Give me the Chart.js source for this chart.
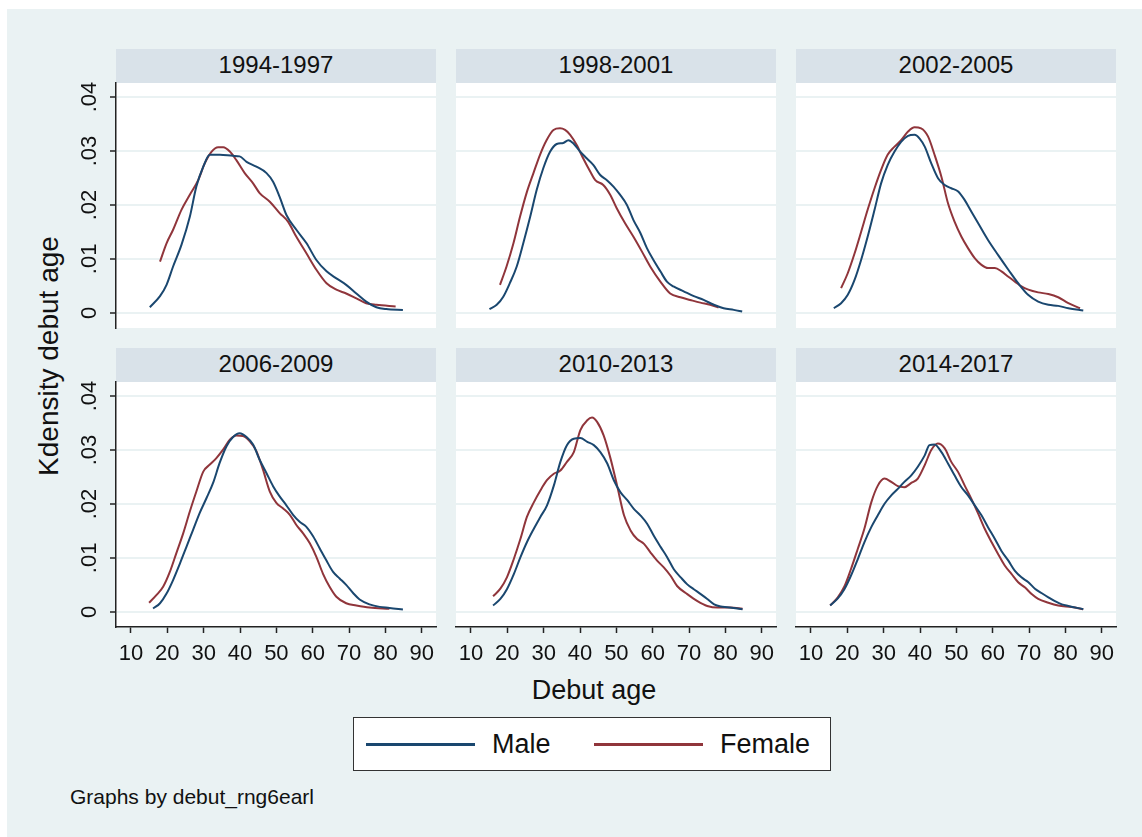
<!DOCTYPE html>
<html>
<head>
<meta charset="utf-8">
<script src="https://cdn.jsdelivr.net/npm/chart.js@4.4.1/dist/chart.umd.min.js"></script>
<style>
  body { margin: 0; background: #fff; font-family: "Liberation Sans", Arial, sans-serif; color: #111; }
  #frame { position: absolute; left: 7px; top: 9px; width: 1135px; height: 828px; background: #eaf2f3; }
  .strip { position: absolute; width: 320px; height: 34px; background: #d9e2e9; text-align: center;
           font-size: 24px; line-height: 32px; color: #111; }
  canvas { position: absolute; }
  #ytitle { position: absolute; left: -101px; top: 340px; width: 300px; height: 32px; line-height: 32px;
            text-align: center; font-size: 28px; transform: rotate(-90deg); }
  #xtitle { position: absolute; left: 444px; top: 674px; width: 300px; text-align: center; font-size: 27px; line-height: 32px; }
  #legend { position: absolute; left: 353px; top: 717px; width: 476px; height: 52px; background: #fff;
            border: 1.5px solid #333; }
  .swatch { position: absolute; top: 25px; width: 109px; height: 0; border-top: 3px solid; }
  .ltext { position: absolute; top: 10px; font-size: 27px; line-height: 32px; }
  #note { position: absolute; left: 70px; top: 784px; font-size: 21px; line-height: 26px; }
</style>
</head>
<body>
<div id="frame"></div>
<div id="ytitle">Kdensity debut age</div>
<div id="xtitle">Debut age</div>
<div id="legend">
  <div class="swatch" style="left:12px;border-color:#1a476f"></div>
  <div class="ltext" style="left:138px">Male</div>
  <div class="swatch" style="left:240px;border-color:#90353b"></div>
  <div class="ltext" style="left:366px">Female</div>
</div>
<div id="note">Graphs by debut_rng6earl</div>

<script>
// 年代別のデビュー年齢カーネル密度（読み取り値）
const panelTitles = ["1994-1997", "1998-2001", "2002-2005", "2006-2009", "2010-2013", "2014-2017"];
const xTicks = [10, 20, 30, 40, 50, 60, 70, 80, 90];
const yTicks = [0, 0.01, 0.02, 0.03, 0.04];

const male9497 = [[15.2,.00105],[18.0,.0031],[19.8,.0052],[21.6,.0086],[23.9,.0126],[26.2,.0178],[28.0,.0234],[29.9,.0271],[31.7,.0293],[34.5,.0293],[38.1,.0291],[39.9,.029],[41.8,.028],[44.5,.0271],[47.3,.0259],[49.1,.0243],[50.9,.0215],[52.8,.0181],[55.5,.0154],[58.3,.0129],[61.0,.0098],[63.8,.0077],[66.5,.0064],[69.2,.0052],[72.0,.0036],[74.7,.0021],[77.5,.00105],[80.2,.0007],[84.8,.00055]];
const female9497 = [[18.0,.0095],[19.8,.0129],[21.6,.0154],[23.9,.0191],[26.2,.0219],[28.5,.0246],[30.3,.0277],[32.2,.0299],[34.0,.0307],[35.4,.0307],[37.2,.0299],[39.0,.0283],[41.3,.0259],[43.6,.024],[45.4,.0222],[48.2,.0206],[50.9,.0185],[53.2,.0169],[55.5,.0141],[58.3,.011],[61.0,.008],[63.8,.0055],[66.5,.0043],[69.2,.0036],[72.0,.0027],[74.7,.0018],[77.5,.0015],[82.8,.0012]];

const male9801 = [[15.1,.00068],[17.1,.0015],[18.9,.003],[20.7,.0055],[22.6,.0086],[24.4,.0129],[26.3,.0178],[28.1,.0228],[29.9,.0268],[31.8,.0299],[33.6,.0313],[35.4,.0315],[36.8,.032],[38.2,.0314],[40.0,.0299],[41.9,.0286],[43.7,.0274],[45.5,.0256],[47.4,.0246],[49.2,.0234],[51.0,.0219],[52.9,.02],[54.7,.0172],[56.6,.0148],[58.4,.012],[60.2,.0098],[62.1,.0077],[63.9,.0058],[65.7,.0049],[68.5,.004],[71.3,.0031],[74.0,.0024],[76.8,.0015],[79.5,.00086],[82.3,.00056],[84.6,.00025]];
const female9801 = [[18.0,.0052],[19.8,.0086],[21.7,.0129],[23.5,.0178],[25.3,.0222],[27.2,.0259],[29.0,.0293],[30.8,.032],[32.7,.0339],[34.5,.0342],[35.9,.0339],[37.3,.033],[39.1,.0311],[40.9,.0286],[42.8,.0262],[44.2,.0246],[46.4,.0237],[48.3,.0219],[50.1,.0194],[52.4,.0166],[54.7,.0141],[57.0,.0114],[59.3,.0086],[62.1,.0058],[64.8,.0036],[67.6,.0029],[70.3,.0024],[73.1,.0019],[75.8,.0015],[78.1,.001]];

const male0205 = [[16.3,.00086],[18.3,.0018],[20.1,.0033],[22.0,.0061],[23.8,.0098],[25.6,.0141],[27.5,.0191],[29.3,.024],[31.1,.0274],[33.0,.0299],[34.8,.0317],[36.7,.0328],[38.5,.033],[39.9,.0323],[41.3,.0308],[43.1,.0277],[45.0,.0249],[46.8,.0237],[48.6,.0231],[50.5,.0225],[52.3,.0209],[54.1,.0188],[56.0,.0166],[58.7,.0135],[61.5,.0107],[64.3,.008],[67.0,.0055],[69.8,.0033],[72.5,.0021],[75.3,.0015],[78.0,.0013],[80.8,.00086],[84.9,.00043]];
const female0205 = [[18.3,.0046],[20.1,.0073],[22.0,.011],[23.8,.015],[25.6,.0191],[27.5,.0231],[29.3,.0265],[31.1,.0293],[33.0,.0308],[34.8,.032],[36.7,.0336],[38.5,.0344],[40.3,.0342],[42.2,.0327],[44.0,.0293],[45.9,.0252],[47.7,.0203],[49.5,.0169],[51.4,.0141],[53.2,.012],[55.1,.0101],[56.9,.0089],[58.7,.0083],[60.6,.0083],[62.4,.0077],[64.3,.0067],[66.1,.0058],[67.9,.0049],[69.8,.0043],[72.5,.0038],[75.3,.0035],[78.0,.0029],[80.8,.0018],[84.0,.00086]];

const male0609 = [[16.1,.00062],[18.0,.0016],[19.8,.0034],[21.6,.0059],[23.5,.009],[25.3,.0121],[27.1,.0152],[28.9,.0183],[30.8,.0211],[32.6,.0239],[34.4,.0276],[36.3,.0307],[38.1,.0324],[39.9,.0331],[41.8,.0324],[43.6,.031],[45.4,.0282],[47.3,.0257],[49.1,.0233],[50.9,.0214],[52.7,.0198],[54.6,.018],[56.4,.0167],[58.2,.0158],[60.1,.014],[61.9,.0118],[63.7,.0096],[65.6,.0074],[67.4,.0062],[69.2,.005],[71.1,.0035],[72.9,.0023],[75.6,.0014],[78.4,.00093],[81.1,.00074],[84.8,.00043]];
const female0609 = [[15.0,.0017],[17.0,.0031],[18.9,.0047],[20.7,.0074],[22.5,.0109],[24.4,.0146],[26.2,.0186],[28.0,.0223],[29.9,.026],[31.7,.0273],[33.5,.0285],[35.4,.0301],[37.2,.0319],[39.0,.0327],[40.8,.0326],[42.7,.0316],[44.5,.0298],[46.3,.0264],[48.2,.0223],[50.0,.0202],[51.8,.0192],[53.7,.018],[55.5,.0161],[57.3,.0146],[59.2,.0127],[61.0,.0102],[62.8,.0071],[64.6,.0047],[66.5,.0028],[69.2,.0016],[72.0,.0012],[75.6,.00081],[81.1,.00056]];

const male1013 = [[16.1,.0012],[18.1,.0024],[19.9,.0042],[21.8,.007],[23.6,.0101],[25.4,.0129],[27.3,.0154],[29.1,.0176],[30.9,.0197],[32.8,.0234],[34.6,.0278],[36.4,.0309],[38.3,.0321],[40.1,.0322],[42.0,.0315],[43.8,.0309],[45.6,.0296],[47.5,.0275],[49.3,.0244],[51.1,.0222],[53.0,.0207],[54.8,.0191],[56.6,.0179],[58.5,.0163],[60.3,.0141],[62.2,.012],[64.0,.0101],[65.8,.0079],[67.7,.0064],[69.5,.0051],[71.3,.0042],[73.2,.0033],[75.0,.0024],[76.9,.0014],[78.7,.001],[80.5,.00087],[84.7,.0005]];
const female1013 = [[16.1,.0029],[18.1,.0043],[19.9,.0064],[21.8,.0098],[23.6,.0135],[25.4,.0176],[27.3,.0203],[29.1,.0225],[30.9,.0244],[32.8,.0256],[34.6,.0262],[36.4,.0278],[38.3,.0296],[40.1,.0337],[42.0,.0355],[43.3,.036],[44.7,.0352],[46.5,.0327],[48.4,.0284],[50.2,.0234],[52.1,.0179],[53.9,.0151],[55.7,.0135],[57.6,.0126],[59.4,.011],[61.2,.0095],[63.1,.0082],[64.9,.0067],[66.7,.0048],[69.5,.0033],[72.3,.002],[75.0,.0011],[77.8,.0008],[81.4,.0008],[84.7,.0006]];

const male1417 = [[15.3,.0012],[17.4,.0025],[19.2,.0042],[21.0,.0067],[22.9,.0098],[24.7,.0129],[26.6,.0157],[28.4,.0179],[30.2,.02],[32.1,.0216],[33.9,.0228],[35.7,.0241],[37.6,.0253],[39.4,.0269],[41.3,.029],[42.6,.0309],[44.0,.031],[45.9,.0296],[47.7,.0275],[49.5,.0253],[51.4,.0231],[53.2,.0216],[55.1,.0197],[56.9,.0179],[58.7,.0157],[60.6,.0135],[62.4,.0113],[64.3,.0095],[66.1,.0076],[67.9,.0064],[69.8,.0055],[71.6,.0043],[73.4,.0035],[75.3,.0027],[77.1,.002],[79.0,.0014],[80.8,.0011],[84.9,.0005]];
const female1417 = [[15.3,.0012],[17.4,.0027],[19.2,.0047],[21.0,.0079],[22.9,.0117],[24.7,.0154],[26.6,.0203],[28.4,.0234],[30.2,.0247],[32.1,.0241],[33.9,.0233],[35.7,.0231],[37.6,.0239],[39.4,.0247],[41.3,.0272],[43.1,.03],[44.9,.0312],[46.8,.0303],[48.6,.0278],[50.5,.0259],[52.3,.0234],[54.1,.021],[56.0,.0182],[57.8,.0154],[59.7,.0129],[61.5,.0107],[63.3,.0086],[65.2,.007],[67.0,.0055],[68.9,.0045],[70.7,.0033],[72.5,.0024],[75.3,.0017],[78.0,.0012],[81.7,.0009],[84.9,.0005]];

const maleSeries = [male9497, male9801, male0205, male0609, male1013, male1417];
const femaleSeries = [female9497, female9801, female0205, female0609, female1013, female1417];

const FONT = '"Liberation Sans", Arial, sans-serif';
const X_MIN = 5.9, X_MAX = 93.9, Y_MIN = -0.0028, Y_MAX = 0.0426;
const colLeft = [116, 456, 796];
const stripTop = [49, 348];
const PLOT_W = 320, PLOT_H = 245, STRIP_H = 34, M = 20, Y_AXIS_W = 60, X_AXIS_H = 45;

// プロット領域を白で塗る
const plotBg = {
  id: "plotBg",
  beforeDraw(chart) {
    const a = chart.chartArea;
    const c = chart.ctx;
    c.save();
    c.fillStyle = "#fff";
    c.fillRect(a.left, a.top, a.right - a.left, a.bottom - a.top);
    c.restore();
  },
};

function toPoints(arr) {
  return arr.map((p) => ({ x: p[0], y: p[1] }));
}

panelTitles.forEach((title, i) => {
  const row = Math.floor(i / 3);
  const col = i % 3;
  const hasY = col === 0;
  const hasX = row === 1;
  const plotTop = stripTop[row] + STRIP_H;

  const strip = document.createElement("div");
  strip.className = "strip";
  strip.style.left = colLeft[col] + "px";
  strip.style.top = stripTop[row] + "px";
  strip.textContent = title;
  document.body.appendChild(strip);

  const padL = hasY ? Y_AXIS_W : M;
  const padB = hasX ? X_AXIS_H : M;
  const canvas = document.createElement("canvas");
  canvas.width = PLOT_W + padL + M;
  canvas.height = PLOT_H + M + padB;
  canvas.style.left = colLeft[col] - padL + "px";
  canvas.style.top = plotTop - M + "px";
  document.body.appendChild(canvas);

  new Chart(canvas, {
    type: "line",
    data: {
      datasets: [
        {
          label: "Male",
          data: toPoints(maleSeries[i]),
          borderColor: "#1a476f",
          borderWidth: 2,
          pointRadius: 0,
          cubicInterpolationMode: "monotone",
        },
        {
          label: "Female",
          data: toPoints(femaleSeries[i]),
          borderColor: "#90353b",
          borderWidth: 2,
          pointRadius: 0,
          cubicInterpolationMode: "monotone",
        },
      ],
    },
    options: {
      responsive: false,
      animation: false,
      devicePixelRatio: 1,
      layout: { padding: { top: M, right: M, left: hasY ? 0 : M, bottom: hasX ? 0 : M } },
      plugins: { legend: { display: false }, tooltip: { enabled: false } },
      scales: {
        x: {
          type: "linear",
          min: X_MIN,
          max: X_MAX,
          display: hasX,
          afterBuildTicks: (s) => { s.ticks = xTicks.map((v) => ({ value: v })); },
          afterFit: (s) => { s.height = hasX ? X_AXIS_H : 0; },
          grid: { drawOnChartArea: false, drawTicks: true, tickLength: 6, tickColor: "#222", tickWidth: 1.5 },
          border: { display: true, color: "#222", width: 1.5 },
          ticks: { color: "#111", font: { size: 22, family: FONT }, padding: 8, maxRotation: 0, autoSkip: false },
        },
        y: {
          type: "linear",
          min: Y_MIN,
          max: Y_MAX,
          afterBuildTicks: (s) => { s.ticks = yTicks.map((v) => ({ value: v })); },
          afterFit: (s) => { s.width = hasY ? Y_AXIS_W : 0; },
          grid: { color: "#eaf2f3", lineWidth: 2, drawTicks: hasY, tickLength: 6, tickColor: "#222", tickWidth: 1.5 },
          border: { display: hasY, color: "#222", width: 1.5 },
          ticks: {
            display: hasY,
            color: "#111",
            font: { size: 22, family: FONT },
            padding: 5,
            minRotation: 90,
            maxRotation: 90,
            crossAlign: "center",
            callback: (v) => (v === 0 ? "0" : String(v).replace(/^0/, "")),
          },
        },
      },
    },
    plugins: [plotBg],
  });
});
</script>
</body>
</html>
